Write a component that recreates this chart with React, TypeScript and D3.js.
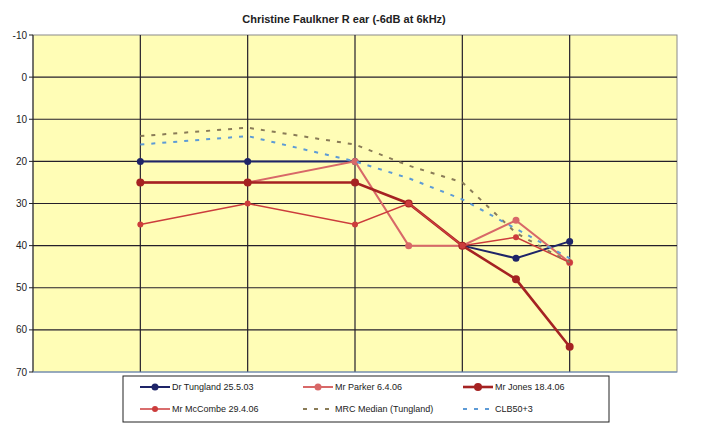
import React from "react";
import * as d3 from "d3";

// audiogram x slots: half-octave steps, only some carry data
const halfOctaves = ["250", "354", "500", "707", "1k", "1.4k", "2k", "3k", "4k", "6k", "8k", "11k", "16k"];
const octaveLines = ["250", "500", "1k", "2k", "4k", "8k", "16k"];
const freqs = ["500", "1k", "2k", "3k", "4k", "6k", "8k"];

const yTicks = [-10, 0, 10, 20, 30, 40, 50, 60, 70];

const tungland = [20, 20, 20, null, 40, 43, 39];
const parker = [25, 25, 20, 40, 40, 34, 44];
const jones = [25, 25, 25, 30, 40, 48, 64];
const mccombe = [35, 30, 35, 30, 40, 38, 44];
const mrcMedian = [14, 12, 16, 21, 25, 37, 44];
const clb50 = [16, 14, 20, 24, 29, 36, 43];

const seriesNames = [
  "Dr Tungland 25.5.03",
  "Mr Parker 6.4.06",
  "Mr Jones 18.4.06",
  "Mr McCombe 29.4.06",
  "MRC Median (Tungland)",
  "CLB50+3",
];

const W = 718;
const H = 445;
const plot = { left: 33, right: 677, top: 35, bottom: 372 };

type Style = { color: string; width: number; dash?: string; marker?: number };

const styles: Style[] = [
  { color: "#1e2468", width: 2, marker: 3.5 },
  { color: "#d86868", width: 2, marker: 3.5 },
  { color: "#a52222", width: 2.6, marker: 4 },
  { color: "#cc3c3c", width: 1.5, marker: 3 },
  { color: "#8a7c58", width: 2, dash: "4 7" },
  { color: "#5d9bd6", width: 2, dash: "4 7" },
];

export default function App() {
  const x = d3.scalePoint<string>().domain(halfOctaves).range([plot.left, plot.right]);
  const y = d3.scaleLinear().domain([-10, 70]).range([plot.top, plot.bottom]);

  const data = [tungland, parker, jones, mccombe, mrcMedian, clb50];
  const line = d3
    .line<[string, number | null]>()
    .defined((d) => d[1] !== null)
    .x((d) => x(d[0]) as number)
    .y((d) => y(d[1] as number));

  // legend layout
  const legCols = [140, 303, 463];
  const legRows = [387, 409];

  return (
    <svg
      width={W}
      height={H}
      style={{ position: "absolute", left: 0, top: 0, background: "#fff" }}
      fontFamily="Liberation Sans, Arial, sans-serif"
    >
      <text x={344} y={23} textAnchor="middle" fontSize={11} fontWeight="bold" fill="#222">
        Christine Faulkner R ear (-6dB at 6kHz)
      </text>

      <rect
        x={plot.left}
        y={plot.top}
        width={plot.right - plot.left}
        height={plot.bottom - plot.top}
        fill="#fffdb6"
        stroke="#8a8a8a"
      />

      {yTicks.map((t) => (
        <g key={"y" + t}>
          {t > -10 && t < 70 && (
            <line x1={plot.left} x2={plot.right} y1={y(t)} y2={y(t)} stroke="#241f2a" strokeWidth={1.2} />
          )}
          <line x1={plot.left - 4} x2={plot.left} y1={y(t)} y2={y(t)} stroke="#222" />
          <text x={plot.left - 6} y={y(t)} dy="0.35em" textAnchor="end" fontSize={10} fill="#222">
            {t}
          </text>
        </g>
      ))}

      {octaveLines.slice(1, -1).map((f) => (
        <line key={"x" + f} x1={x(f)} x2={x(f)} y1={plot.top} y2={plot.bottom} stroke="#241f2a" strokeWidth={1.2} />
      ))}
      <line x1={plot.left} x2={plot.left} y1={plot.top} y2={plot.bottom} stroke="#222" />
      <line x1={plot.left} x2={plot.right} y1={plot.bottom} y2={plot.bottom} stroke="#6b8fc0" />

      {data.map((vals, i) => {
        const pts = freqs.map((f, j) => [f, vals[j]] as [string, number | null]);
        const s = styles[i];
        return (
          <g key={"s" + i}>
            <path
              d={line(pts) || ""}
              fill="none"
              stroke={s.color}
              strokeWidth={s.width}
              strokeDasharray={s.dash}
            />
            {s.marker &&
              pts
                .filter((p) => p[1] !== null)
                .map((p, j) => (
                  <circle key={j} cx={x(p[0])} cy={y(p[1] as number)} r={s.marker} fill={s.color} />
                ))}
          </g>
        );
      })}

      <rect x={123} y={376} width={486} height={46} fill="#fff" stroke="#222" strokeWidth={1} />
      {seriesNames.map((name, i) => {
        const lx = legCols[i % 3];
        const ly = legRows[Math.floor(i / 3)];
        const s = styles[i];
        return (
          <g key={"l" + i}>
            <line x1={lx} x2={lx + 30} y1={ly} y2={ly} stroke={s.color} strokeWidth={s.width} strokeDasharray={s.dash} />
            {s.marker && <circle cx={lx + 15} cy={ly} r={s.marker} fill={s.color} />}
            <text x={lx + 32} y={ly} dy="0.35em" fontSize={9} fill="#222">
              {name}
            </text>
          </g>
        );
      })}
    </svg>
  );
}
